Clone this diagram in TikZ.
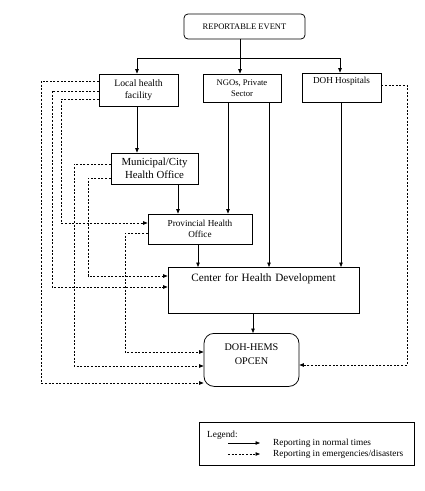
\documentclass[tikz,border=0pt]{standalone}
\usepackage{fontspec}
\setmainfont{Liberation Serif}
\usetikzlibrary{arrows.meta,calc}
\begin{document}
\begin{tikzpicture}[x=1pt,y=-1pt,
  box/.style={draw,line width=0.75pt,inner sep=0pt,align=center},
  solidarr/.style={line width=0.65pt,-{Triangle[length=4.5pt,width=3.5pt]}},
  dasharr/.style={line width=0.65pt,dash pattern=on 2pt off 1.6pt,-{Triangle[length=4.5pt,width=3.5pt]}}]
\useasboundingbox (0,0) rectangle (425,491);
% nodes
\node[box,rounded corners=4pt,minimum width=121pt,minimum height=25pt,font=\fontsize{8.5}{10}\selectfont] (re) at (244.5,26.5) {REPORTABLE EVENT};
\node[box,minimum width=79pt,minimum height=32pt,font=\fontsize{9.7}{12}\selectfont] (lhf) at (138.5,90) {Local health\\facility};
\node[box,minimum width=78pt,minimum height=28pt,font=\fontsize{8.6}{10.5}\selectfont] (ngo) at (242,88) {NGOs, Private\\Sector};
\node[box,minimum width=79pt,minimum height=29pt,text height=10pt,text depth=19pt,font=\fontsize{9.2}{11}\selectfont] (doh) at (341.5,87.5) {DOH Hospitals};
\node[box,minimum width=87pt,minimum height=31pt,font=\fontsize{10.8}{12.5}\selectfont] (muni) at (154.5,168.5) {Municipal/City\\Health Office};
\node[box,minimum width=104pt,minimum height=30pt,font=\fontsize{9.2}{11}\selectfont] (prov) at (200,229) {Provincial Health\\Office};
\node[box,anchor=north,text width=191pt,text height=14pt,text depth=32pt,font=\fontsize{11.2}{13}\selectfont] (chd) at (263.5,267) {Center for Health Development};
\node[box,anchor=north,rounded corners=10pt,text width=95pt,text height=17pt,text depth=36pt,font=\fontsize{10.2}{14}\selectfont] (opc) at (251.5,333) {DOH-HEMS\\OPCEN};
% solid connectors
\coordinate (bl) at (137,58);
\coordinate (br) at (340,58);
\draw[line width=0.65pt] (bl) -- (br);
\draw[solidarr] (re.south -| 240,0) -- (ngo.north -| 240,0);
\draw[solidarr] (bl) -- (lhf.north -| bl);
\draw[solidarr] (br) -- (doh.north -| br);
\draw[solidarr] (lhf.south -| 137,0) -- (muni.north -| 137,0);
\draw[solidarr] (muni.south -| 178,0) -- (prov.north -| 178,0);
\draw[solidarr] (ngo.south -| 228,0) -- (prov.north -| 228,0);
\draw[solidarr] (ngo.south -| 269,0) -- (chd.north -| 269,0);
\draw[solidarr] (doh.south -| 341,0) -- (chd.north -| 341,0);
\draw[solidarr] (prov.south -| 198,0) -- (chd.north -| 198,0);
\draw[solidarr] (chd.south -| 253,0) -- (opc.north -| 253,0);
% dashed connectors
\draw[dasharr] (lhf.west |- 0,81) -| (41,383) -- (opc.west |- 0,383);
\draw[dasharr] (lhf.west |- 0,91) -| (52,287) -- (chd.west |- 0,287);
\draw[dasharr] (lhf.west |- 0,99) -| (61,223) -- (prov.west |- 0,223);
\draw[dasharr] (muni.west |- 0,164) -| (74,366) -- (opc.west |- 0,366);
\draw[dasharr] (muni.west |- 0,178) -| (88,276) -- (chd.west |- 0,276);
\draw[dasharr] (prov.west |- 0,233) -| (125,352) -- (opc.west |- 0,352);
\draw[dasharr] (doh.east |- 0,85) -| (407,365) -- (opc.east |- 0,365);
% legend
\node[draw,line width=0.65pt,minimum width=215pt,minimum height=43pt,inner sep=0pt] (leg) at (306.5,443.5) {};
\node[anchor=base west,inner sep=0pt,font=\fontsize{9.3}{11}\selectfont] (legt) at (207,437) {Legend:};
\coordinate (s1) at (228,443);
\coordinate (e1) at (260,443);
\coordinate (s2) at (228,454);
\coordinate (e2) at (260,454);
\draw[solidarr] (s1) -- (e1);
\draw[dasharr] (s2) -- (e2);
\node[anchor=west,inner sep=0pt,font=\fontsize{9.3}{11}\selectfont] (l1) at (273,443.5) {Reporting in normal times};
\node[anchor=west,inner sep=0pt,font=\fontsize{9.3}{11}\selectfont] (l2) at (273,454.5) {Reporting in emergencies/disasters};
\end{tikzpicture}
\end{document}
